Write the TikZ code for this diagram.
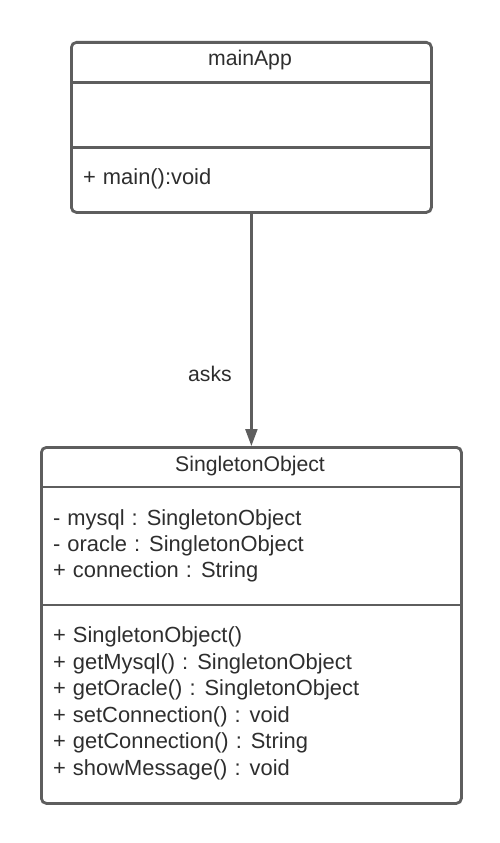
\documentclass[tikz,border=0pt]{standalone}
\usepackage{fontspec}
\setmainfont[WordSpace=1.15]{Liberation Sans}
\usetikzlibrary{arrows.meta}
\definecolor{linecol}{HTML}{5E5E5E}
\definecolor{txtcol}{HTML}{2E2E2E}
\begin{document}
\begin{tikzpicture}[x=1pt,y=-1pt,
  box/.style={draw=linecol,line width=2.8pt,rounded corners=5pt,fill=white,inner sep=0pt,anchor=north west},
  divider/.style={draw=linecol,line width=2.8pt},
  txt/.style={font=\fontsize{21.9}{26}\selectfont,text=txtcol,inner sep=0pt,anchor=base west},
  ttl/.style={font=\fontsize{21.2}{26}\selectfont,text=txtcol,inner sep=0pt,anchor=base},
  conn/.style={draw=linecol,line width=2.2pt,-{Triangle[length=17pt,width=12pt]}}]
\useasboundingbox[fill=white] (0,0) rectangle (500,843);
% mainApp
\node[box,minimum width=360pt,minimum height=170pt] (main) at (70,41) {};
\draw[divider] (70,82.5) coordinate (m1a) -- (430,82.5) coordinate (m1b);
\draw[divider] (70,147.5) coordinate (m2a) -- (430,147.5) coordinate (m2b);
\node[ttl] (mtitle) at (250,66) {mainApp};
\node[txt] (mop) at (83,184) {+ main():void};
% SingletonObject
\node[box,minimum width=420pt,minimum height=356pt] (single) at (40,446) {};
\draw[divider] (40,487) coordinate (s1a) -- (460,487) coordinate (s1b);
\draw[divider] (40,605) coordinate (s2a) -- (460,605) coordinate (s2b);
\node[ttl] (stitle) at (250,471) {SingletonObject};
\node[txt] (a1) at (53,525) {- mysql : SingletonObject};
\node[txt] (a2) at (53,551.4) {- oracle : SingletonObject};
\node[txt] (a3) at (53,577.8) {+ connection : String};
\node[txt] (o1) at (53,642.7) {+ SingletonObject()};
\node[txt] (o2) at (53,669.2) {+ getMysql() : SingletonObject};
\node[txt] (o3) at (53,695.7) {+ getOracle() : SingletonObject};
\node[txt] (o4) at (53,722.2) {+ setConnection() : void};
\node[txt] (o5) at (53,748.7) {+ getConnection() : String};
\node[txt] (o6) at (53,775.2) {+ showMessage() : void};
% connector
\draw[conn] (main.south) -- (single.north);
\node[ttl] (asks) at (210,381) {asks};
\end{tikzpicture}
\end{document}
